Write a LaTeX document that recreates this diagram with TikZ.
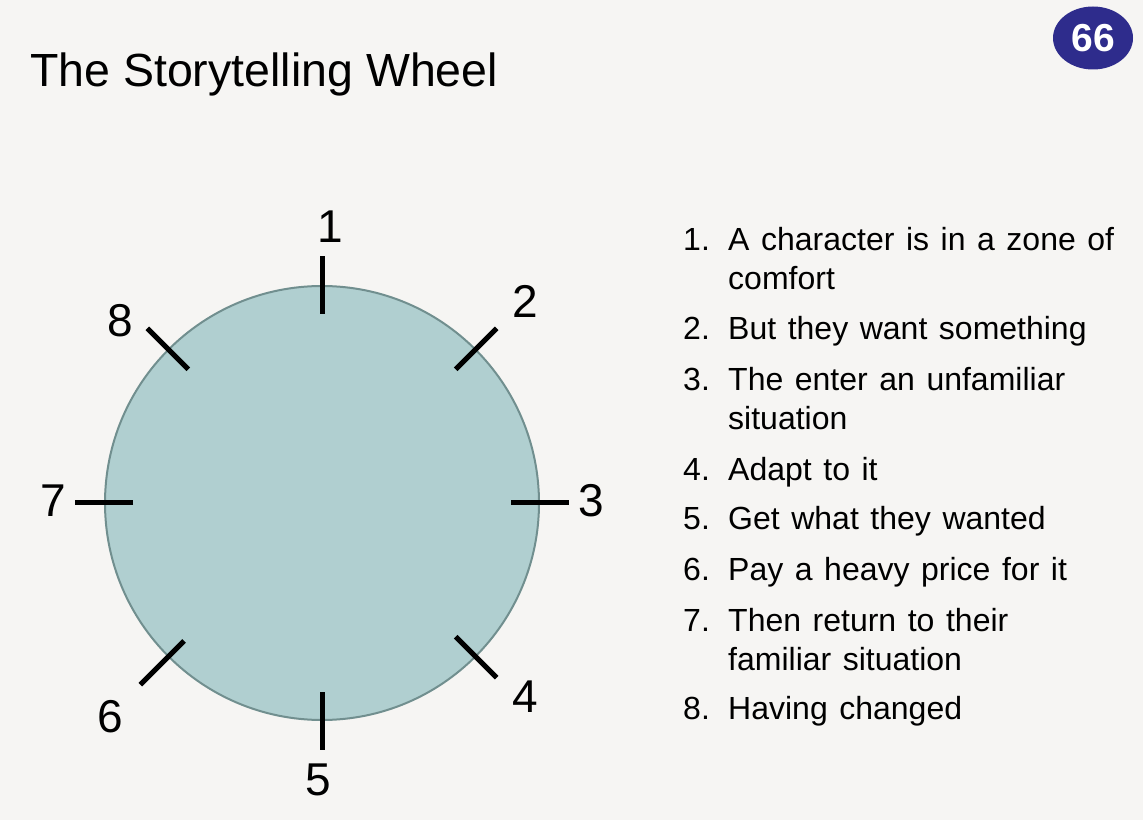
\documentclass[tikz,border=0pt]{standalone}
\usepackage{fontspec}
\setmainfont{Liberation Sans}
\newfontfamily\listfont[WordSpace=1.3]{Liberation Sans}
\definecolor{slidebg}{HTML}{F6F5F3}
\definecolor{wheelfill}{HTML}{B0CFD0}
\definecolor{wheeledge}{HTML}{718F8F}
\definecolor{badgeblue}{HTML}{2E2C8C}
\tikzset{
  wheel/.style={circle, draw=wheeledge, line width=2pt, fill=wheelfill, minimum size=434pt, inner sep=0pt},
  tick/.style={line width=5pt},
  digit/.style={inner sep=0pt, font=\fontsize{46}{50}\selectfont},
  listtext/.style={anchor=base west, inner sep=0pt, font=\listfont\fontsize{32}{38}\selectfont},
  badge/.style={ellipse, fill=badgeblue, text=white, minimum width=80pt, minimum height=63pt, inner sep=0pt, font=\fontsize{39}{40}\selectfont\bfseries}
}
\usetikzlibrary{shapes.geometric}
\begin{document}
\begin{tikzpicture}[x=1pt, y=1pt]
\useasboundingbox (0, 0) rectangle (1143, 820);
\fill[slidebg] (0, 0) rectangle (1143, 820);
\node[anchor=base west, inner sep=0pt, font=\fontsize{46.5}{50}\selectfont] (title) at (30, 733) {The Storytelling Wheel};
\node[badge] (badge) at (1093, 782) {66};
\node[wheel] (wheel) at (322, 317) {};
\foreach \a/\i/\r in {88.3/1/276, 44.7/2/286, 0.6/3/269, -43.7/4/281, -90.8/5/277, -134.7/6/301, 179.4/7/269, 137.8/8/272}
  \path (wheel.center) ++(\a:\r) node[digit] (num\i) {\i};
\foreach \a in {90, 45, 0, -45, -90, 180, 135}
  \draw[tick] (wheel.center) ++(\a:189) -- ++(\a:58);
\draw[tick] (wheel.center) ++(-135:195) -- ++(-135:62);
\foreach \y/\n in {569/1, 480/2, 429/3, 339/4, 290/5, 240/6, 189/7, 101/8}
  \node[listtext] (item\n) at (683, \y) {\n.};
\foreach \y/\t in {569/A character is in a zone of, 530/comfort, 480/But they want something, 429/The enter an unfamiliar, 390/situation, 339/Adapt to it, 290/Get what they wanted, 240/Pay a heavy price for it, 189/Then return to their, 150/familiar situation, 101/Having changed}
  \node[listtext] at (728, \y) {\t};
\end{tikzpicture}
\end{document}
